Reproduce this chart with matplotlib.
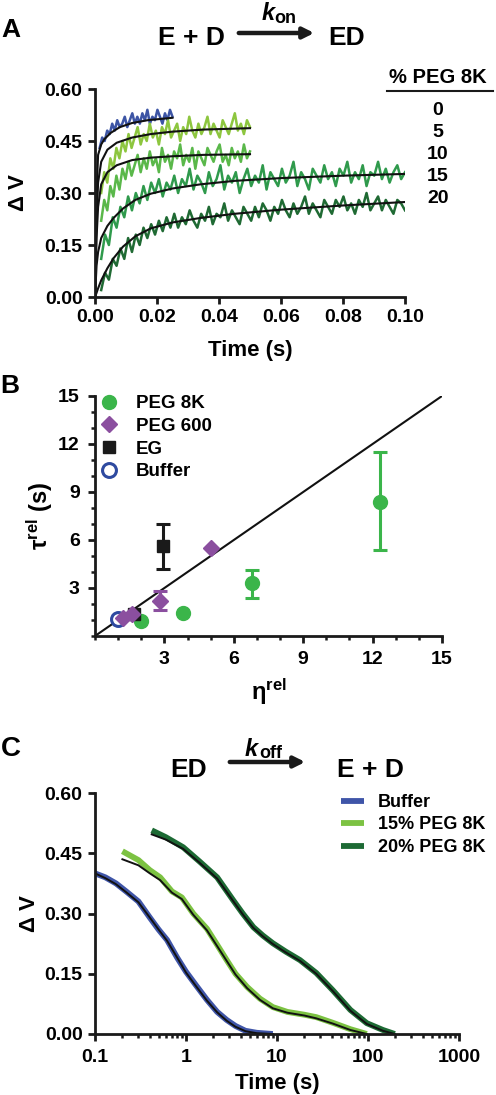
import numpy as np
import matplotlib
matplotlib.use("Agg")
import matplotlib.pyplot as plt
from matplotlib.ticker import MultipleLocator, FixedLocator, NullFormatter

plt.rcParams['font.family'] = ['Liberation Sans', 'DejaVu Sans']
plt.rcParams['font.weight'] = 'bold'
plt.rcParams['axes.labelweight'] = 'bold'
plt.rcParams['mathtext.fontset'] = 'custom'
plt.rcParams['mathtext.rm'] = 'Liberation Sans'
plt.rcParams['mathtext.bf'] = 'Liberation Sans:bold'
plt.rcParams['mathtext.it'] = 'Liberation Sans:italic'

W, H = 496, 1095

# ---------------- Panel A: association traces ----------------
peg_pct = [0, 5, 10, 15, 20]
colors_a = ['#3d55a5', '#8dc63f', '#5ab84a', '#2f9a4c', '#1f6a33']

trace_span = [(0.0015, 0.025), (0.002, 0.05), (0.002, 0.05), (0.002, 0.1), (0.002, 0.1)]

trace0 = [0.43, 0.46, 0.45, 0.48, 0.47, 0.50, 0.48, 0.51, 0.49, 0.50,
          0.52, 0.49, 0.51, 0.53, 0.50, 0.52, 0.50, 0.53, 0.51, 0.54,
          0.50, 0.52, 0.51, 0.54, 0.52, 0.50, 0.53, 0.51, 0.54, 0.52]
trace5 = [0.30, 0.36, 0.33, 0.40, 0.37, 0.43, 0.40, 0.45, 0.42, 0.47,
          0.43, 0.46, 0.49, 0.44, 0.47, 0.45, 0.50, 0.46, 0.48, 0.44,
          0.49, 0.47, 0.51, 0.46, 0.48, 0.50, 0.45, 0.49, 0.47, 0.52,
          0.48, 0.46, 0.50, 0.47, 0.49, 0.52, 0.47, 0.50, 0.48, 0.46,
          0.51, 0.49, 0.47, 0.50, 0.53, 0.48, 0.50, 0.47, 0.51, 0.49]
trace10 = [0.22, 0.28, 0.25, 0.32, 0.29, 0.35, 0.31, 0.37, 0.34, 0.39,
           0.35, 0.38, 0.41, 0.36, 0.40, 0.37, 0.42, 0.38, 0.40, 0.36,
           0.43, 0.39, 0.41, 0.37, 0.42, 0.40, 0.44, 0.38, 0.41, 0.39,
           0.43, 0.37, 0.42, 0.40, 0.38, 0.43, 0.41, 0.39, 0.42, 0.44,
           0.39, 0.41, 0.38, 0.43, 0.40, 0.42, 0.39, 0.44, 0.40, 0.42]
trace15 = [0.11, 0.18, 0.15, 0.23, 0.20, 0.26, 0.23, 0.29, 0.25, 0.30,
           0.27, 0.32, 0.28, 0.33, 0.30, 0.34, 0.29, 0.33, 0.31, 0.35,
           0.30, 0.34, 0.32, 0.37, 0.31, 0.35, 0.33, 0.30, 0.36, 0.32,
           0.34, 0.38, 0.31, 0.35, 0.33, 0.36, 0.30, 0.34, 0.37, 0.32,
           0.35, 0.33, 0.38, 0.31, 0.36, 0.34, 0.32, 0.37, 0.33, 0.35,
           0.39, 0.32, 0.36, 0.34, 0.31, 0.37, 0.35, 0.33, 0.38, 0.34,
           0.36, 0.32, 0.37, 0.35, 0.39, 0.33, 0.36, 0.34, 0.38, 0.32,
           0.36, 0.35, 0.39, 0.34, 0.37, 0.33, 0.36, 0.38, 0.34, 0.36]
trace20 = [0.02, 0.07, 0.05, 0.11, 0.09, 0.14, 0.11, 0.17, 0.13, 0.18,
           0.15, 0.20, 0.17, 0.21, 0.18, 0.22, 0.19, 0.23, 0.20, 0.24,
           0.20, 0.23, 0.21, 0.25, 0.22, 0.20, 0.24, 0.22, 0.26, 0.21,
           0.24, 0.23, 0.27, 0.22, 0.25, 0.23, 0.21, 0.26, 0.24, 0.22,
           0.26, 0.23, 0.27, 0.25, 0.22, 0.26, 0.24, 0.28, 0.25, 0.23,
           0.27, 0.24, 0.26, 0.29, 0.24, 0.27, 0.25, 0.23, 0.28, 0.26,
           0.24, 0.28, 0.26, 0.29, 0.25, 0.27, 0.24, 0.28, 0.26, 0.30,
           0.25, 0.27, 0.29, 0.25, 0.28, 0.26, 0.24, 0.28, 0.27, 0.25]
traces_a = [trace0, trace5, trace10, trace15, trace20]

fit_t0 = [0, 0.0005, 0.001, 0.002, 0.003, 0.005, 0.008, 0.012, 0.017, 0.025]
fit0 = [0, 0.30, 0.41, 0.44, 0.455, 0.473, 0.49, 0.502, 0.51, 0.517]
fit_t_mid = [0, 0.0005, 0.001, 0.002, 0.004, 0.007, 0.012, 0.018, 0.025, 0.035, 0.05]
fit5 = [0, 0.22, 0.33, 0.39, 0.425, 0.445, 0.46, 0.47, 0.477, 0.483, 0.487]
fit10 = [0, 0.17, 0.26, 0.325, 0.36, 0.38, 0.395, 0.402, 0.406, 0.41, 0.412]
fit_t_long = [0, 0.0005, 0.001, 0.002, 0.004, 0.006, 0.009, 0.013, 0.018,
              0.025, 0.034, 0.045, 0.06, 0.08, 0.1]
fit15 = [0, 0.09, 0.13, 0.17, 0.205, 0.228, 0.255, 0.28, 0.298,
         0.313, 0.325, 0.335, 0.343, 0.35, 0.355]
fit20 = [0, 0.012, 0.025, 0.048, 0.083, 0.112, 0.145, 0.175, 0.198,
         0.215, 0.228, 0.24, 0.252, 0.264, 0.274]
fits_a = [(fit_t0, fit0), (fit_t_mid, fit5), (fit_t_mid, fit10),
          (fit_t_long, fit15), (fit_t_long, fit20)]

# ---------------- Panel B: tau_rel vs eta_rel ----------------
buf_x, buf_y = [1.0], [1.05]
peg8k_x = [2.0, 3.8, 6.8, 12.3]
peg8k_y = [0.95, 1.45, 3.3, 8.4]
peg8k_lo = [0.95, 1.45, 2.4, 5.4]
peg8k_hi = [0.95, 1.45, 4.1, 11.5]
peg600_x = [1.2, 1.6, 2.8, 5.0]
peg600_y = [1.1, 1.35, 2.2, 5.5]
peg600_lo = [1.1, 1.35, 1.6, 5.5]
peg600_hi = [1.1, 1.35, 2.8, 5.5]
eg_x = [1.7, 2.95]
eg_y = [1.4, 5.6]
eg_lo = [1.4, 4.2]
eg_hi = [1.4, 7.0]

# ---------------- Panel C: dissociation traces ----------------
buf_t = [0.1, 0.13, 0.17, 0.22, 0.3, 0.4, 0.5, 0.62, 0.8, 1.0, 1.3, 1.7,
         2.2, 2.8, 3.5, 4.5, 6, 9]
buf_v = [0.40, 0.39, 0.375, 0.355, 0.33, 0.29, 0.26, 0.234, 0.19, 0.155,
         0.12, 0.085, 0.055, 0.035, 0.02, 0.008, 0.003, 0.0]
buf_fit = [0.40, 0.388, 0.373, 0.353, 0.328, 0.29, 0.26, 0.232, 0.19, 0.153,
           0.118, 0.083, 0.054, 0.033, 0.018, 0.007, 0.002, 0.0]
p15_t = [0.2, 0.3, 0.4, 0.52, 0.7, 0.9, 1.2, 1.7, 2.3, 2.8, 3.5, 4.7, 6.5,
         9, 13, 20, 27, 41, 64, 97]
p15_v = [0.455, 0.433, 0.408, 0.39, 0.355, 0.34, 0.30, 0.262, 0.215, 0.184,
         0.15, 0.117, 0.088, 0.067, 0.055, 0.048, 0.042, 0.028, 0.012, 0.0]
p15_fit = [0.435, 0.42, 0.40, 0.383, 0.352, 0.336, 0.297, 0.258, 0.212, 0.182,
           0.148, 0.114, 0.085, 0.064, 0.053, 0.046, 0.039, 0.026, 0.01, 0.0]
p20_t = [0.42, 0.6, 0.93, 1.4, 2.2, 3.3, 4.2, 5.5, 7, 9, 12.5, 17.9, 27,
         41, 64, 97, 146, 197]
p20_v = [0.507, 0.49, 0.465, 0.43, 0.39, 0.333, 0.30, 0.266, 0.245, 0.226,
         0.205, 0.184, 0.152, 0.109, 0.06, 0.027, 0.01, 0.0]
p20_fit = [0.497, 0.484, 0.461, 0.427, 0.387, 0.331, 0.298, 0.264, 0.243,
           0.224, 0.203, 0.182, 0.15, 0.107, 0.058, 0.025, 0.008, 0.0]
labels_c = ['Buffer', '15% PEG 8K', '20% PEG 8K']
colors_c = ['#3f55a8', '#7cc242', '#1d6a34']

fig = plt.figure(figsize=(W / 100, H / 100), dpi=100)


def ftext(x, y, s, **kw):
    kw.setdefault('va', 'baseline')
    kw.setdefault('ha', 'center')
    fig.text(x / W, 1 - y / H, s, **kw)


def arrow(x0, x1, y):
    fig.add_artist(matplotlib.patches.FancyArrowPatch(
        (x0 / W, 1 - y / H), (x1 / W, 1 - y / H), transform=fig.transFigure,
        arrowstyle='-|>', mutation_scale=16, lw=3.2, color='#1a1a1a'))


def style(ax):
    for s in ['top', 'right']:
        ax.spines[s].set_visible(False)
    for s in ['left', 'bottom']:
        ax.spines[s].set_linewidth(2.0)
        ax.spines[s].set_color('#1a1a1a')
    ax.tick_params(which='major', direction='out', length=5, width=2.0,
                   labelsize=14, color='#1a1a1a', pad=4)
    ax.tick_params(which='minor', direction='out', length=3, width=1.8,
                   color='#1a1a1a')


# ---- A ----
axA = fig.add_axes([95 / W, 1 - 297 / H, 310 / W, 208 / H])
style(axA)
for i in range(len(peg_pct)):
    t = np.linspace(trace_span[i][0], trace_span[i][1], len(traces_a[i]))
    axA.plot(t, traces_a[i], color=colors_a[i], lw=1.8)
for i in range(len(peg_pct)):
    axA.plot(fits_a[i][0], fits_a[i][1], color='#111111', lw=1.5)
axA.set_xlim(0, 0.1)
axA.set_ylim(0, 0.6)
axA.set_xticks([0, 0.02, 0.04, 0.06, 0.08, 0.10])
axA.set_xticklabels(['0.00', '0.02', '0.04', '0.06', '0.08', '0.10'])
axA.set_yticks([0, 0.15, 0.30, 0.45, 0.60])
axA.set_yticklabels(['0.00', '0.15', '0.30', '0.45', '0.60'])
axA.set_xlabel('Time (s)', fontsize=16, labelpad=10)
axA.set_ylabel('Δ V', fontsize=16, labelpad=11)

ftext(11, 37, 'A', fontsize=19)
ftext(191, 45, 'E + D', fontsize=19)
arrow(236, 317, 33)
ftext(268, 20, 'k', fontsize=17, style='italic')
ftext(285, 23, 'on', fontsize=13)
ftext(347, 45, 'ED', fontsize=19)
ftext(438, 83, '% PEG 8K', fontsize=14.5)
fig.add_artist(matplotlib.lines.Line2D([387 / W, 493 / W], [1 - 91 / H, 1 - 91 / H],
                                       color='#1a1a1a', lw=1.5))
for i, p in enumerate(peg_pct):
    ftext(438, 115 + 22 * i, str(p), fontsize=14)

# ---- B ----
axB = fig.add_axes([95 / W, 1 - 636 / H, 347 / W, 240 / H])
style(axB)
axB.plot([0, 15], [0, 15], color='#111111', lw=1.5, zorder=1)


def errs(x, y, lo, hi, c):
    sel = [k for k in range(len(x)) if hi[k] > lo[k]]
    axB.errorbar([x[k] for k in sel], [y[k] for k in sel],
                 yerr=[[y[k] - lo[k] for k in sel], [hi[k] - y[k] for k in sel]],
                 fmt='none', ecolor=c, elinewidth=2.2, capsize=5, capthick=2.2, zorder=2)


errs(peg8k_x, peg8k_y, peg8k_lo, peg8k_hi, '#3bb54a')
errs(eg_x, eg_y, eg_lo, eg_hi, '#1a1a1a')
errs(peg600_x, peg600_y, peg600_lo, peg600_hi, '#8b4f9f')
h8k, = axB.plot(peg8k_x, peg8k_y, 'o', color='#3bb54a', ms=10, ls='none', label='PEG 8K', zorder=3)
hbuf, = axB.plot(buf_x, buf_y, 'o', mfc='white', mec='#2e4aa0', mew=2.2, ms=10, ls='none',
                 label='Buffer', zorder=3)
heg, = axB.plot(eg_x, eg_y, 's', color='#1a1a1a', ms=9, ls='none', label='EG', zorder=4)
h600, = axB.plot(peg600_x, peg600_y, 'D', color='#8b4f9f', ms=8, ls='none', label='PEG 600',
                 zorder=5)
axB.set_xlim(0, 15)
axB.set_ylim(0, 15)
axB.xaxis.set_major_locator(FixedLocator([3, 6, 9, 12, 15]))
axB.yaxis.set_major_locator(FixedLocator([3, 6, 9, 12, 15]))
axB.xaxis.set_minor_locator(MultipleLocator(1))
axB.yaxis.set_minor_locator(MultipleLocator(1))
axB.tick_params(labelsize=14, pad=6)
axB.set_xlabel(r'$\mathrm{η}^{\mathbf{rel}}$', fontsize=17, labelpad=6)
axB.set_ylabel(r'$\mathrm{τ}^{\mathbf{rel}}$ (s)', fontsize=17, labelpad=2)
axB.legend(handles=[h8k, h600, heg, hbuf], loc='upper left', frameon=False,
           bbox_to_anchor=(101 / W, 1 - 395 / H), bbox_transform=fig.transFigure,
           fontsize=13.5, handlelength=0.9, handletextpad=0.95, labelspacing=0.3,
           borderpad=0, borderaxespad=0)
ftext(10, 393, 'B', fontsize=19)

# ---- C ----
axC = fig.add_axes([95 / W, 1 - 1034 / H, 364 / W, 241 / H])
style(axC)
data_c = [(buf_t, buf_v, buf_fit), (p15_t, p15_v, p15_fit), (p20_t, p20_v, p20_fit)]
handles_c = []
for i in range(3):
    h, = axC.plot(data_c[i][0], data_c[i][1], color=colors_c[i], lw=4.2,
                  solid_capstyle='butt', label=labels_c[i])
    handles_c.append(h)
for i in range(3):
    axC.plot(data_c[i][0], data_c[i][2], color='#111111', lw=1.4)
axC.set_xscale('log')
axC.set_xlim(0.1, 1000)
axC.set_ylim(0, 0.6)
axC.set_xticks([0.1, 1, 10, 100, 1000])
axC.set_xticklabels(['0.1', '1', '10', '100', '1000'])
axC.xaxis.set_minor_formatter(NullFormatter())
axC.set_yticks([0, 0.15, 0.30, 0.45, 0.60])
axC.set_yticklabels(['0.00', '0.15', '0.30', '0.45', '0.60'])
axC.tick_params(axis='x', pad=6)
axC.set_xlabel('Time (s)', fontsize=16, labelpad=5)
axC.set_ylabel('Δ V', fontsize=16, labelpad=3)
axC.legend(handles=handles_c, loc='upper left', frameon=False,
           bbox_to_anchor=(341 / W, 1 - 794 / H), bbox_transform=fig.transFigure,
           fontsize=13, handlelength=1.3, handletextpad=0.75, labelspacing=0.3,
           borderpad=0, borderaxespad=0)

ftext(11, 756, 'C', fontsize=20)
ftext(189, 777, 'ED', fontsize=19)
arrow(227, 308, 762)
ftext(251, 756, 'k', fontsize=17, style='italic')
ftext(271, 758, 'off', fontsize=13)
ftext(370, 777, 'E + D', fontsize=19)

fig.savefig('out.png', dpi=100)
